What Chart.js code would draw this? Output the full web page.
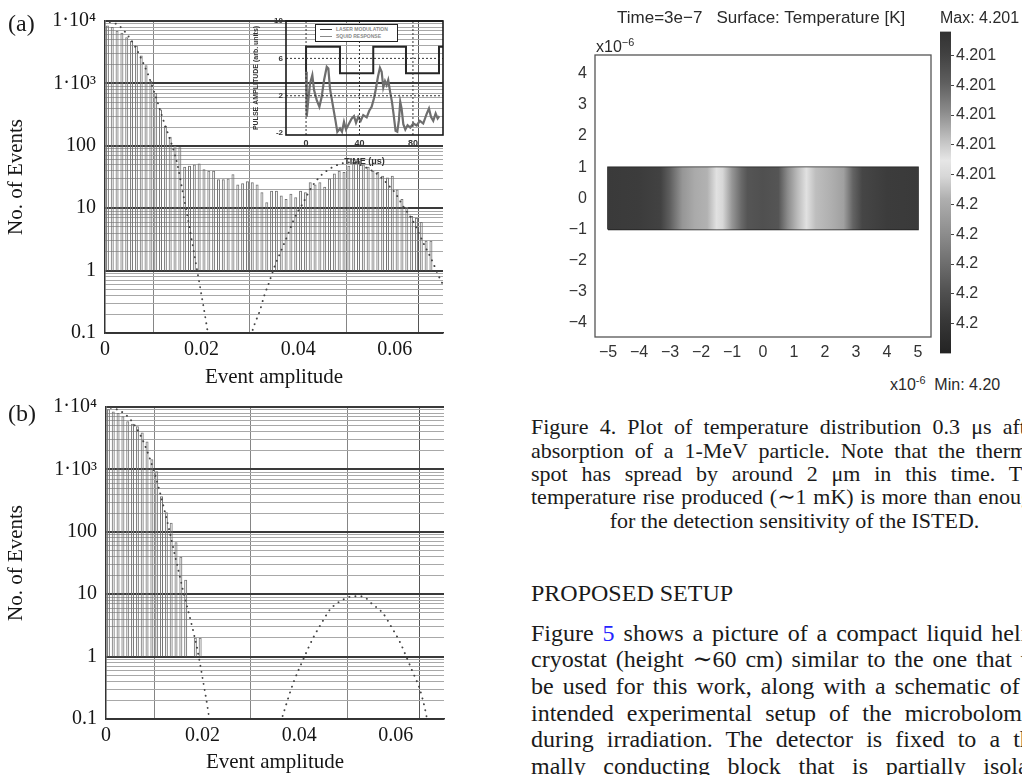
<!DOCTYPE html>
<html>
<head>
<meta charset="utf-8">
<script src="https://cdn.jsdelivr.net/npm/chart.js"></script>
<style>
  html, body { margin: 0; padding: 0; background: #fff; }
  body { width: 1022px; height: 775px; position: relative; overflow: hidden; color: #1a1a1a; }
  canvas, .t { position: absolute; }
  .t { white-space: nowrap; }
  .serif { font-family: "Liberation Serif", "DejaVu Serif", serif; }
  .sans { font-family: "Liberation Sans", Arial, sans-serif; }
  .ln { position: absolute; left: 531px; width: 527px; text-align: justify; text-align-last: justify; }
  .cap .ln { width: 512px; }
  sup { font-size: 68%; vertical-align: 0; position: relative; top: -0.55em; }
  .blue { color: #2424ff; }
</style>
</head>
<body>

<canvas id="histA" width="460" height="390" style="left:0;top:0"></canvas>
<canvas id="inset" width="215" height="175" style="left:240px;top:0"></canvas>
<canvas id="histB" width="461" height="395" style="left:0;top:380px"></canvas>
<canvas id="tempPlot" width="380" height="372" style="left:560px;top:0"></canvas>
<canvas id="colorBar" width="82" height="345" style="left:940px;top:20px"></canvas>

<div class="t serif" style="left:8px;top:9px;font-size:24px;line-height:28px">(a)</div>
<div class="t serif" style="left:8px;top:399px;font-size:24px;line-height:28px">(b)</div>

<!-- inset legend -->
<div class="t sans" style="left:315px;top:24px;width:81px;height:16px;border:1.5px solid #222;background:#fff;font-size:5px;line-height:7px;color:#8a8a8a;font-weight:bold;">
  <div style="padding:1px 0 0 4px"><span style="display:inline-block;width:12px;border-top:1.5px solid #333;vertical-align:middle;margin-right:4px"></span>LASER MODULATION</div>
  <div style="padding:0 0 0 4px"><span style="display:inline-block;width:12px;border-top:1.5px solid #888;vertical-align:middle;margin-right:4px"></span>SQUID RESPONSE</div>
</div>

<div class="t sans" style="left:617px;top:7px;font-size:17px;line-height:22px;color:#2a2a2a">Time=3e&minus;7&nbsp;&nbsp;&nbsp;Surface: Temperature [K]</div>
<div class="t sans" style="left:940px;top:8px;font-size:16px;line-height:20px;color:#2a2a2a">Max: 4.201</div>
<div class="t sans" style="left:596px;top:37px;font-size:16px;line-height:20px;color:#2a2a2a">x10<sup>&minus;6</sup></div>
<div class="t sans" style="left:890px;top:375px;font-size:16px;line-height:20px;color:#2a2a2a">x10<sup>-6</sup>&nbsp; Min: 4.20</div>

<div class="serif cap" style="position:absolute;left:0;top:0;font-size:22px;line-height:23.3px">
  <div class="ln" style="top:415.4px">Figure 4. Plot of temperature distribution 0.3 &mu;s after</div>
  <div class="ln" style="top:438.7px">absorption of a 1-MeV particle. Note that the thermal</div>
  <div class="ln" style="top:462px">spot has spread by around 2 &mu;m in this time. The</div>
  <div class="ln" style="top:485.3px">temperature rise produced (&sim;1 mK) is more than enough</div>
  <div class="ln" style="top:508.6px;width:527px;text-align:center;text-align-last:center">for the detection sensitivity of the ISTED.</div>
</div>

<div class="t serif" style="left:531px;top:579px;font-size:24px;line-height:28px">PROPOSED SETUP</div>

<div class="serif" style="position:absolute;left:0;top:0;font-size:24px;line-height:26.7px">
  <div class="ln" style="top:619.6px">Figure <span class="blue">5</span> shows a picture of a compact liquid helium</div>
  <div class="ln" style="top:646.3px">cryostat (height &sim;60 cm) similar to the one that will</div>
  <div class="ln" style="top:673px">be used for this work, along with a schematic of the</div>
  <div class="ln" style="top:699.7px">intended experimental setup of the microbolometer</div>
  <div class="ln" style="top:726.4px">during irradiation. The detector is fixed to a ther-</div>
  <div class="ln" style="top:753.1px">mally conducting block that is partially isolated</div>
</div>

<script>
// histogram bins (event amplitude) and counts
const binCenters = [0.0005, 0.0015, 0.0025, 0.0035, 0.0045, 0.0055, 0.0065, 0.0075, 0.0085, 0.0095,
                    0.0105, 0.0115, 0.0125, 0.0135, 0.0145, 0.0155, 0.0165, 0.0175, 0.0185, 0.0195,
                    0.0205, 0.0215, 0.0225, 0.0235, 0.0245, 0.0255, 0.0265, 0.0275, 0.0285, 0.0295,
                    0.0305, 0.0315, 0.0325, 0.0335, 0.0345, 0.0355, 0.0365, 0.0375, 0.0385, 0.0395,
                    0.0405, 0.0415, 0.0425, 0.0435, 0.0445, 0.0455, 0.0465, 0.0475, 0.0485, 0.0495,
                    0.0505, 0.0515, 0.0525, 0.0535, 0.0545, 0.0555, 0.0565, 0.0575, 0.0585, 0.0595,
                    0.0605, 0.0615, 0.0625, 0.0635, 0.0645, 0.0655, 0.0665, 0.0675, 0.0685];
const countsA = [8500, 8000, 7000, 6500, 5500, 4800, 4000, 2800, 1950, 1100,
                 700, 380, 210, 140, 100, 95, 46, 48, 50, 52,
                 42, 40, 40, 29, 29, 30, 35, 24, 25, 27,
                 26, 24, 18, 12.5, 19, 19, 16, 14, 17, 15,
                 19, 18, 26, 24, 26, 22, 30, 36, 40, 38,
                 48, 55, 57, 50, 46, 40, 38, 33, 31, 33,
                 20, 14, 10.5, 7.5, 7, 6, 3, 3, null];
const countsB = [9200, 8500, 8000, 7100, 5900, 5400, 4900, 3900, 2800, 1450,
                 930, 370, 205, 140, 68, 40, 17, null, 2, 2];

// dotted fit curves
const fitA1x = [0.001, 0.002, 0.003, 0.004, 0.005, 0.006, 0.007, 0.008, 0.009, 0.010, 0.011,
                0.012, 0.013, 0.014, 0.015, 0.016, 0.017, 0.018, 0.019, 0.020, 0.021, 0.0213];
const fitA1y = [9600, 9200, 8300, 6900, 5500, 4200, 3000, 2050, 1340, 800, 470,
                270, 160, 95, 50, 20, 8, 3, 1.1, 0.4, 0.14, 0.1];
const fitA2x = [0.0302, 0.031, 0.032, 0.033, 0.034, 0.035, 0.036, 0.037, 0.038, 0.039, 0.040,
                0.041, 0.042, 0.043, 0.044, 0.045, 0.046, 0.047, 0.048, 0.049, 0.050,
                0.051, 0.052, 0.053, 0.054, 0.055, 0.056, 0.057, 0.058, 0.059, 0.060,
                0.061, 0.062, 0.063, 0.064, 0.065, 0.066, 0.067, 0.068, 0.069, 0.070];
const fitA2y = [0.09, 0.14, 0.22, 0.4, 0.65, 1.1, 1.7, 2.6, 4.0, 6.3, 9,
                12, 17, 23, 29, 35, 40, 45, 49, 52, 54,
                54, 52, 49, 45, 41, 37, 32, 27, 22, 18,
                13.5, 10, 7.8, 5.8, 4, 2.7, 1.9, 1.3, 0.85, 0.6];
const fitB1x = [0.001, 0.002, 0.003, 0.004, 0.005, 0.006, 0.007, 0.008, 0.009, 0.010, 0.011,
                0.012, 0.013, 0.014, 0.015, 0.016, 0.017, 0.018, 0.019, 0.020, 0.021, 0.0214];
const fitB1y = [9700, 9300, 8600, 7600, 6400, 5000, 3700, 2500, 1550, 900, 480,
                240, 115, 52, 24, 11, 5.5, 2.7, 1.2, 0.45, 0.16, 0.1];
const fitB2x = [0.0362, 0.0367, 0.0388, 0.0409, 0.0429, 0.0447, 0.0464, 0.0478, 0.0491, 0.0505, 0.0522,
                0.0536, 0.055, 0.0574, 0.0592, 0.0609, 0.0623, 0.0636, 0.065, 0.0662, 0.0666];
const fitB2y = [0.09, 0.12, 0.38, 0.92, 2.0, 3.5, 5.7, 7.1, 8.2, 9.1, 9.3,
                8.9, 7.1, 4.9, 2.9, 1.7, 0.95, 0.55, 0.3, 0.13, 0.09];

const ampTicks = [0, 0.02, 0.04, 0.06, 0.07];
const ampTickLabels = ['0', '0.02', '0.04', '0.06', ''];
const countTicks = [0.1, 1, 10, 100, 1000, 10000];
const countTickLabels = ['0.1', '1', '10', '100', '1\u00b710\u00b3', '1\u00b710\u2074'];

// inset: pulse amplitude vs time
const laserT = [0, 0, 25.4, 50.3, 74.8, 99.5, 102.5];
const laserV = [4.4, 7.25, 4.4, 7.25, 4.4, 7.25, 7.25];
const squidT = [0, 0.5, 1.7, 3.0, 4.7, 6.0, 8.0, 10.0, 11.7, 13.5, 15.5, 16.7, 17.9, 19.4, 20.9, 22.2,
                23.4, 25.4, 26.9, 28.4, 29.9, 31.9, 34.2, 35.9, 37.4, 39.1, 40.9, 42.8, 45.4, 47.3,
                49.1, 50.8, 52.3, 53.8, 55.3, 56.6, 57.8, 59.1, 60.3, 61.5, 62.8, 64.3, 65.6, 67.0,
                68.3, 69.5, 70.5, 71.5, 72.8, 74.3, 76.0, 78.0, 80.3, 82.8, 85.2, 87.7, 90.2, 92.0,
                93.5, 95.2, 97.0, 98.5, 99.7];
const squidV = [4.57, -0.26, 1.53, 3.32, 4.21, 2.6, 1.53, 0.82, 1.89, 3.68, 5.1, 4.93, 2.78, 1.53, 0.28, -0.79,
                -1.86, -1.5, -1.86, -0.79, -1.61, -1.04, -0.43, -0.18, -0.9, -0.26, -0.69, -0.07, -0.32, 0.39,
                0.82, 1.71, 2.78, 4.03, 5.0, 4.57, 2.89, 3.57, 3.14, 3.68, 2.53, 1.35, -0.07, -1.75,
                -1.86, -0.61, 1.35, 0.64, -1.04, -1.61, -1.15, -1.4, -0.97, -1.18, -0.69, -0.97, 0.03, 0.64,
                -0.26, -0.69, 0.1, -0.43, -0.18];
const timeRange = [-15, 102.5];
const pulseRange = [-2.2, 10];
const timeTicks = [0, 40, 80];
const pulseTicks = [-2, 2, 6, 10];
const pulseGuides = [2, 6];

// temperature surface plot
const sampleX = [-5, 5];
const sampleY = [-1, 1];
const outlineX = [-5, 5, 5, -5, -5];
const outlineY = [-1, -1, 1, 1, -1];
const boundaryX = [-0.5, 0.5];
const surfaceX = [-5, -4, -3.3, -3, -2.6, -2.2, -1.8, -1.5, -1.3, -1, -0.7, -0.5,
                  0, 0.5, 0.8, 1.1, 1.4, 1.7, 2.2, 2.6, 2.9, 3.2, 4, 5];
const surfaceShade = [58, 60, 66, 95, 150, 170, 178, 225, 215, 150, 105, 85,
                      80, 85, 140, 185, 225, 190, 175, 160, 100, 70, 60, 58];
const posXTicks = [-5, -4, -3, -2, -1, 0, 1, 2, 3, 4, 5];
const posYTicks = [-4, -3, -2, -1, 0, 1, 2, 3, 4];

// color bar (top = max)
const barShadePos = [0, 0.07, 0.16, 0.25, 0.34, 0.4, 0.45, 0.52, 0.63, 0.72, 0.81, 0.9, 1];
const barShade = [50, 65, 95, 140, 195, 230, 215, 175, 140, 110, 80, 55, 35];
const barTicks = [1, 2, 3, 4, 5, 6, 7, 8, 9, 10];
const barTickLabels = ['4.2', '4.2', '4.2', '4.2', '4.2', '4.201', '4.201', '4.201', '4.201', '4.201'];

const SERIF = '"Liberation Serif", "DejaVu Serif", serif';
const SANS = '"Liberation Sans", Arial, sans-serif';
Chart.defaults.font.family = SERIF;

const pts = (xs, ys) => xs.map((x, i) => ({ x: x, y: ys[i] }));
const gray = v => 'rgb(' + v + ',' + v + ',' + v + ')';
const isDecade = v => Math.abs(Math.log10(v) - Math.round(Math.log10(v))) < 1e-6;
const tickVal = c => (c && c.tick) ? c.tick.value : NaN;
const minus = v => String(v).replace('-', '\u2212');

const framePlugin = {
    id: 'frame',
    afterDatasetsDraw(chart, args, o) {
        const a = chart.chartArea;
        const ctx = chart.ctx;
        ctx.save();
        ctx.strokeStyle = o.color;
        ctx.lineWidth = o.width;
        ctx.strokeRect(a.left, a.top, a.right - a.left, a.bottom - a.top);
        ctx.restore();
    }
};

function histogram(id, counts, fits, cfg) {
    const bars = [];
    counts.forEach((c, i) => { if (c != null) bars.push({ x: binCenters[i], y: [1, c] }); });
    const datasets = [{
        type: 'bar',
        data: bars,
        backgroundColor: 'rgba(255,255,255,0)',
        borderColor: '#747474',
        borderWidth: 1,
        barPercentage: 0.62,
        categoryPercentage: 1,
        order: 2
    }];
    fits.forEach(f => datasets.push({
        type: 'line',
        data: pts(f[0], f[1]),
        borderColor: '#444',
        borderWidth: 1.9,
        borderDash: [0.1, 6],
        borderCapStyle: 'round',
        pointRadius: 0,
        cubicInterpolationMode: 'monotone',
        fill: false,
        order: 1
    }));

    return new Chart(document.getElementById(id), {
        type: 'bar',
        data: { datasets: datasets },
        options: {
            responsive: false,
            animation: false,
            layout: { padding: cfg.padding },
            plugins: { legend: { display: false }, tooltip: { enabled: false } },
            scales: {
                x: {
                    type: 'linear', min: 0, max: 0.07, offset: false,
                    afterBuildTicks: s => { s.ticks = ampTicks.map(v => ({ value: v })); },
                    afterFit: s => { s.height = cfg.xAxisHeight; },
                    ticks: {
                        autoSkip: false, maxRotation: 0, padding: 5, color: '#151515',
                        font: { size: 20 },
                        callback: (v) => ampTickLabels[ampTicks.indexOf(v)] || ''
                    },
                    grid: { drawTicks: false, lineWidth: 1, color: c => tickVal(c) === 0.07 ? '#555' : '#858585' },
                    border: { color: '#333', width: 1.5 },
                    title: { display: true, text: 'Event amplitude', color: '#151515', font: { size: 21 },
                             padding: { top: 0, bottom: cfg.titleGap } }
                },
                y: {
                    type: 'logarithmic', min: 0.1, max: 10000,
                    afterBuildTicks: s => {
                        const vals = [];
                        for (let d = 0; d < countTicks.length - 1; d++) {
                            for (let m = 1; m < 10; m++) vals.push(countTicks[d] * m);
                        }
                        vals.push(countTicks[countTicks.length - 1]);
                        s.ticks = vals.map(v => ({ value: v }));
                    },
                    afterFit: s => { s.width = cfg.yAxisWidth; },
                    ticks: {
                        autoSkip: false, padding: 9, color: '#151515', font: { size: 20 },
                        callback: (v) => {
                            const i = countTicks.findIndex(t => Math.abs(t - v) / t < 1e-6);
                            return i < 0 ? '' : countTickLabels[i];
                        }
                    },
                    grid: {
                        drawTicks: false,
                        color: c => isDecade(tickVal(c)) ? '#3a3a3a' : '#a8a8a8',
                        lineWidth: c => isDecade(tickVal(c)) ? 2 : 1
                    },
                    border: { color: '#333', width: 1.5 },
                    title: { display: true, text: 'No. of Events', color: '#151515', font: { size: 21 },
                             padding: { top: 4, bottom: 0 } }
                }
            }
        }
    });
}

histogram('histA', countsA, [[fitA1x, fitA1y], [fitA2x, fitA2y]],
          { padding: { top: 21, right: 17, bottom: 0, left: 0 }, xAxisHeight: 57, yAxisWidth: 105, titleGap: 0 });
histogram('histB', countsB, [[fitB1x, fitB1y], [fitB2x, fitB2y]],
          { padding: { top: 27, right: 17, bottom: 0, left: 0 }, xAxisHeight: 56, yAxisWidth: 106, titleGap: 0 });

// inset
const guideLines = [];
pulseGuides.forEach(v => guideLines.push(pts(timeRange, [v, v])));
timeTicks.forEach(t => guideLines.push(pts([t, t], pulseRange)));

new Chart(document.getElementById('inset'), {
    type: 'line',
    data: {
        datasets: guideLines.map(d => ({
            data: d, borderColor: '#333', borderWidth: 1, borderDash: [2, 2], pointRadius: 0, fill: false
        })).concat([
            { data: pts(squidT, squidV), borderColor: '#6e6e6e', borderWidth: 2.2, pointRadius: 0, fill: false },
            { data: pts(laserT, laserV), borderColor: '#262626', borderWidth: 2, pointRadius: 0, stepped: true, fill: false }
        ])
    },
    options: {
        responsive: false,
        animation: false,
        layout: { padding: { top: 21, right: 12, bottom: 0, left: 0 } },
        plugins: { legend: { display: false }, tooltip: { enabled: false }, frame: { color: '#1a1a1a', width: 1.6 } },
        scales: {
            x: {
                type: 'linear', min: timeRange[0], max: timeRange[1],
                afterBuildTicks: s => { s.ticks = timeTicks.map(v => ({ value: v })); },
                afterFit: s => { s.height = 40; },
                grid: { display: false, drawTicks: false }, border: { display: false },
                ticks: { font: { family: SANS, size: 9, weight: 'bold' }, color: '#333', padding: 3, maxRotation: 0 },
                title: { display: true, text: 'TIME (\u03bcs)', color: '#333', font: { family: SANS, size: 9, weight: 'bold' },
                         padding: { top: 0, bottom: 8 } }
            },
            y: {
                type: 'linear', min: pulseRange[0], max: pulseRange[1],
                afterBuildTicks: s => { s.ticks = pulseTicks.map(v => ({ value: v })); },
                afterFit: s => { s.width = 46; },
                grid: { display: false, drawTicks: false }, border: { display: false },
                ticks: { font: { family: SANS, size: 8, weight: 'bold' }, color: '#333', padding: 3 },
                title: { display: true, text: 'PULSE AMPLITUDE (arb. units)', color: '#333',
                         font: { family: SANS, size: 7, weight: 'bold' }, padding: { top: 12, bottom: 0 } }
            }
        }
    },
    plugins: [framePlugin]
});

// temperature surface
function surfaceGradient(context) {
    const chart = context.chart;
    if (!chart.chartArea || !chart.scales.x) return 'rgba(0,0,0,0)';
    const xs = chart.scales.x;
    const x0 = xs.getPixelForValue(sampleX[0]);
    const x1 = xs.getPixelForValue(sampleX[1]);
    const g = chart.ctx.createLinearGradient(x0, 0, x1, 0);
    surfaceX.forEach((v, i) => g.addColorStop((v - sampleX[0]) / (sampleX[1] - sampleX[0]), gray(surfaceShade[i])));
    return g;
}

const tickFont = { family: SANS, size: 16 };
new Chart(document.getElementById('tempPlot'), {
    type: 'scatter',
    data: {
        datasets: [
            { data: pts(sampleX, [sampleY[1], sampleY[1]]), showLine: true, fill: { value: sampleY[0] },
              backgroundColor: surfaceGradient, borderWidth: 0, pointRadius: 0 },
            { data: pts(outlineX, outlineY), showLine: true, borderColor: '#1c1c1c', borderWidth: 1.6, pointRadius: 0, fill: false },
            { data: pts([boundaryX[0], boundaryX[0]], sampleY), showLine: true, borderColor: '#1c1c1c', borderWidth: 1.6, pointRadius: 0, fill: false },
            { data: pts([boundaryX[1], boundaryX[1]], sampleY), showLine: true, borderColor: '#1c1c1c', borderWidth: 1.6, pointRadius: 0, fill: false }
        ]
    },
    options: {
        responsive: false,
        animation: false,
        layout: { padding: { top: 55, right: 9, bottom: 0, left: 0 } },
        plugins: { legend: { display: false }, tooltip: { enabled: false }, frame: { color: '#555', width: 1.3 } },
        scales: {
            x: {
                type: 'linear', min: -5.42, max: 5.42,
                afterBuildTicks: s => { s.ticks = posXTicks.map(v => ({ value: v })); },
                afterFit: s => { s.height = 35; },
                grid: { display: false, drawTicks: false }, border: { display: false },
                ticks: { font: tickFont, color: '#333', padding: 6, maxRotation: 0, callback: minus }
            },
            y: {
                type: 'linear', min: -4.45, max: 4.6,
                afterBuildTicks: s => { s.ticks = posYTicks.map(v => ({ value: v })); },
                afterFit: s => { s.width = 35; },
                grid: { display: false, drawTicks: false }, border: { display: false },
                ticks: { font: tickFont, color: '#333', padding: 8, callback: minus }
            }
        }
    },
    plugins: [framePlugin]
});

// color bar
function barGradient(context) {
    const chart = context.chart;
    const a = chart.chartArea;
    if (!a) return 'rgba(0,0,0,0)';
    const g = chart.ctx.createLinearGradient(0, a.top, 0, a.bottom);
    barShadePos.forEach((p, i) => g.addColorStop(p, gray(barShade[i])));
    return g;
}

new Chart(document.getElementById('colorBar'), {
    type: 'bar',
    data: { labels: ['T'], datasets: [{ data: [[0, 10.8]], backgroundColor: barGradient, borderWidth: 0,
                                         barPercentage: 1, categoryPercentage: 1 }] },
    options: {
        responsive: false,
        animation: false,
        layout: { padding: { top: 8, bottom: 8, left: 0, right: 0 } },
        plugins: { legend: { display: false }, tooltip: { enabled: false } },
        scales: {
            x: { display: false },
            y: {
                position: 'right', min: 0, max: 10.8,
                afterBuildTicks: s => { s.ticks = barTicks.map(v => ({ value: v })); },
                afterFit: s => { s.width = 71; },
                grid: { drawOnChartArea: false, tickLength: 3, color: '#444' },
                border: { display: false },
                ticks: { font: tickFont, color: '#333', padding: 2, callback: (v, i) => barTickLabels[i] }
            }
        }
    }
});
</script>
</body>
</html>
